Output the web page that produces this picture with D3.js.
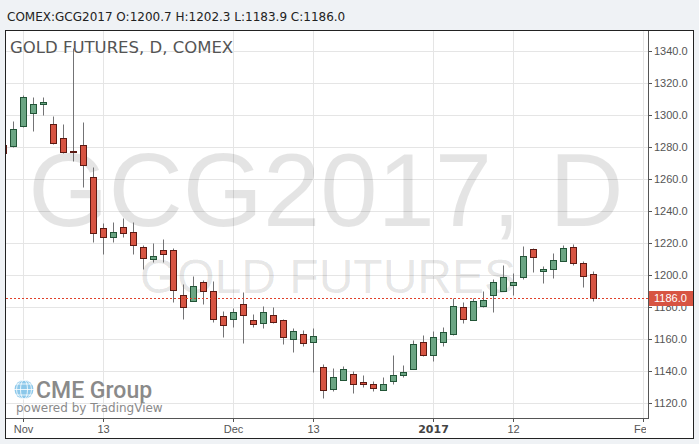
<!DOCTYPE html>
<html>
<head>
<meta charset="utf-8">
<script src="https://d3js.org/d3.v7.min.js"></script>
<style>
    body { margin: 0; background: #eff2f5; }
    svg { display: block; }
</style>
</head>
<body>
<div id="chart"></div>
<script>
const width = 699;
const height = 444;

// daily bars, first bar index is -2 (two October sessions before Nov 1)
const firstIndex = -2;
const opens = [1281.1, 1280.8, 1292.9, 1301.1, 1306.7, 1294.2, 1285.4, 1277.3, 1281.1, 1261.1,
    1229.2, 1223.6, 1229.8, 1226.7, 1217.3, 1209.8, 1215.4, 1215.4, 1187.3, 1183.6,
    1195.4, 1189.8, 1174.2, 1172.9, 1181.7, 1171.7, 1170.4, 1174.8, 1171.7, 1160.4,
    1163.5, 1158.5, 1142.9, 1129.2, 1134.8, 1138.5, 1133.0, 1132.3, 1128.6, 1134.2,
    1137.9, 1141.7, 1158.5, 1150.4, 1158.5, 1163.5, 1179.8, 1171.7, 1180.4, 1187.3,
    1189.8, 1193.6, 1198.6, 1216.0, 1202.3, 1203.6, 1208.6, 1217.3, 1207.3, 1200.7];
const highs = [1282.0, 1296.3, 1312.5, 1311.3, 1311.3, 1299.2, 1294.2, 1341.9, 1295.6, 1267.3,
    1232.3, 1232.9, 1235.4, 1232.9, 1218.8, 1219.8, 1222.3, 1216.7, 1194.4, 1199.4,
    1196.7, 1196.3, 1177.5, 1179.2, 1189.2, 1176.0, 1181.0, 1179.8, 1172.9, 1166.7,
    1166.0, 1166.7, 1144.8, 1142.3, 1143.5, 1140.4, 1137.9, 1134.2, 1136.1, 1150.4,
    1144.2, 1159.8, 1162.9, 1164.8, 1167.3, 1185.4, 1182.9, 1185.4, 1189.8, 1197.3,
    1206.0, 1201.0, 1217.9, 1216.7, 1205.4, 1213.5, 1218.6, 1219.2, 1208.6, 1202.3];
const lows = [1275.0, 1280.2, 1292.5, 1289.6, 1299.6, 1282.0, 1276.2, 1271.4, 1255.2, 1220.8,
    1212.9, 1220.8, 1223.6, 1212.9, 1203.6, 1208.3, 1207.9, 1183.3, 1172.3, 1183.6,
    1182.1, 1170.8, 1161.5, 1167.3, 1157.7, 1167.9, 1166.7, 1170.4, 1157.3, 1152.1,
    1156.0, 1139.6, 1123.6, 1127.9, 1134.8, 1126.5, 1130.4, 1127.9, 1128.6, 1132.3,
    1136.7, 1141.7, 1149.8, 1146.1, 1156.0, 1162.9, 1170.4, 1171.7, 1179.8, 1176.7,
    1189.8, 1187.3, 1197.3, 1201.7, 1194.8, 1197.9, 1208.6, 1206.0, 1192.3, 1183.9];
const closes = [1276.1, 1291.1, 1311.1, 1306.7, 1308.1, 1282.3, 1277.1, 1276.5, 1268.6, 1226.1,
    1223.6, 1226.7, 1226.1, 1218.6, 1210.4, 1211.7, 1212.9, 1190.8, 1179.8, 1192.9,
    1189.8, 1172.9, 1168.6, 1176.7, 1175.4, 1169.2, 1176.7, 1171.0, 1161.1, 1164.8,
    1157.9, 1162.3, 1128.6, 1136.1, 1141.7, 1132.3, 1132.3, 1129.8, 1132.3, 1137.9,
    1139.8, 1157.3, 1150.4, 1161.1, 1164.2, 1180.4, 1172.3, 1183.6, 1184.2, 1195.4,
    1198.6, 1195.4, 1211.7, 1211.0, 1203.6, 1209.2, 1216.7, 1207.3, 1199.2, 1186.0];

const timeTicks = [0, 8, 21, 29, 41, 49, 62];
const timeLabels = ["Nov", "13", "Dec", "13", "2017", "12", "Feb"];
const priceTicks = d3.range(1120, 1341, 20);
const lastPrice = 1186.0;

const bars = opens.map((o, i) => ({
    i: firstIndex + i, o: o, h: highs[i], l: lows[i], c: closes[i]
}));

// plot box inside the frame
const plot = { left: 6, right: 648, top: 31, bottom: 418 };

const x = d3.scaleLinear().domain([0, 1]).range([23, 33]);
const y = d3.scaleLinear().domain([1120, 1340]).range([403.3, 50.7]);
const py = v => Math.round(y(v)) + 0.5;
const px = v => Math.round(x(v)) + 0.5;

const upFill = "#6ba583", upLine = "#225437";
const downFill = "#d75442", downLine = "#5b1a13";

const svg = d3.select("#chart").append("svg")
    .attr("width", width)
    .attr("height", height);

svg.append("rect").attr("width", width).attr("height", height).attr("fill", "#eff2f5");

svg.append("text")
    .attr("x", 7).attr("y", 20.5)
    .style("font", "12px 'DejaVu Sans'")
    .attr("fill", "#222")
    .text(`COMEX:GCG2017 O:${opens[opens.length - 1].toFixed(1)} H:${highs[highs.length - 1].toFixed(1)} L:${lows[lows.length - 1].toFixed(1)} C:${closes[closes.length - 1].toFixed(1)}`);

svg.append("rect")
    .attr("x", 5.5).attr("y", 30.5)
    .attr("width", 688).attr("height", 408)
    .attr("fill", "#fff")
    .attr("stroke", "#222");

const defs = svg.append("defs");
defs.append("clipPath").attr("id", "plot-clip").append("rect")
    .attr("x", plot.left).attr("y", plot.top)
    .attr("width", plot.right - plot.left).attr("height", plot.bottom - plot.top);
defs.append("clipPath").attr("id", "time-clip").append("rect")
    .attr("x", plot.left).attr("y", plot.bottom)
    .attr("width", 646 - plot.left).attr("height", 20);

const g = svg.append("g").attr("clip-path", "url(#plot-clip)");

// grid
g.selectAll(".hgrid").data(priceTicks).join("line")
    .attr("x1", plot.left).attr("x2", plot.right)
    .attr("y1", d => py(d)).attr("y2", d => py(d))
    .attr("stroke", "#e5e5e5");
g.selectAll(".vgrid").data(timeTicks).join("line")
    .attr("x1", d => px(d)).attr("x2", d => px(d))
    .attr("y1", plot.top).attr("y2", plot.bottom)
    .attr("stroke", "#e5e5e5");

// watermark
const cx = (plot.left + plot.right) / 2;
g.append("text")
    .attr("x", cx - 1).attr("y", 226)
    .attr("text-anchor", "middle")
    .style("font", "103px 'Liberation Sans'")
    .attr("fill", "#000").attr("fill-opacity", 0.105)
    .text("GCG2017, D");
g.append("text")
    .attr("x", cx + 1).attr("y", 293)
    .attr("text-anchor", "middle")
    .style("font", "48px 'Liberation Sans'")
    .attr("fill", "#000").attr("fill-opacity", 0.105)
    .text("GOLD FUTURES");

g.append("text")
    .attr("x", 10).attr("y", 52.5)
    .style("font", "16.5px 'DejaVu Sans'")
    .attr("fill", "#555")
    .text("GOLD FUTURES, D, COMEX");

// logo
const logo = g.append("g");
logo.append("circle").attr("cx", 24).attr("cy", 389.5).attr("r", 9.5).attr("fill", "#8cc8ea");
[-5.5, 0, 5.5].forEach(dy => {
    logo.append("line")
        .attr("x1", 14).attr("x2", 34).attr("y1", 389.5 + dy).attr("y2", 389.5 + dy)
        .attr("stroke", "#fff").attr("stroke-width", 0.8);
});
[3.5, 7.5].forEach(rx => {
    logo.append("ellipse").attr("cx", 24).attr("cy", 389.5).attr("rx", rx).attr("ry", 9.5)
        .attr("fill", "none").attr("stroke", "#fff").attr("stroke-width", 0.8);
});
logo.append("text")
    .attr("x", 36).attr("y", 398)
    .style("font", "500 23px Roboto")
    .attr("fill", "#8a8a8a")
    .text("CME Group");
logo.append("text")
    .attr("x", 16).attr("y", 412)
    .style("font", "12px 'DejaVu Sans'")
    .attr("fill", "#8a8a8a")
    .text("powered by TradingView");

// candles
const candle = g.selectAll(".candle").data(bars).join("g");
candle.append("line")
    .attr("x1", d => px(d.i)).attr("x2", d => px(d.i))
    .attr("y1", d => py(d.h)).attr("y2", d => py(d.l))
    .attr("stroke", "#737375");
candle.append("rect")
    .attr("x", d => Math.round(x(d.i)) - 2.5)
    .attr("width", 6)
    .attr("y", d => py(Math.max(d.o, d.c)))
    .attr("height", d => Math.max(0.5, Math.round(y(Math.min(d.o, d.c))) - Math.round(y(Math.max(d.o, d.c)))))
    .attr("fill", d => d.c >= d.o ? upFill : downFill)
    .attr("stroke", d => d.c >= d.o ? upLine : downLine);

// last price line
g.append("line")
    .attr("x1", plot.left).attr("x2", plot.right)
    .attr("y1", py(lastPrice)).attr("y2", py(lastPrice))
    .attr("stroke", "#e0402a")
    .attr("stroke-dasharray", "2,2");

// price axis
svg.append("line")
    .attr("x1", plot.right + 0.5).attr("x2", plot.right + 0.5)
    .attr("y1", plot.top).attr("y2", plot.bottom + 1)
    .attr("stroke", "#555");
const pAxis = svg.append("g");
pAxis.selectAll("line").data(priceTicks).join("line")
    .attr("x1", plot.right).attr("x2", plot.right + 4)
    .attr("y1", d => py(d)).attr("y2", d => py(d))
    .attr("stroke", "#555");
pAxis.selectAll("text").data(priceTicks).join("text")
    .attr("x", 654).attr("y", d => y(d) + 4)
    .style("font", "11px 'Liberation Sans'")
    .attr("fill", "#555")
    .text(d => d.toFixed(1));

svg.append("rect")
    .attr("x", plot.right + 1).attr("y", py(lastPrice) - 7.5)
    .attr("width", 44).attr("height", 15)
    .attr("fill", downFill);
svg.append("text")
    .attr("x", 654).attr("y", y(lastPrice) + 4.5)
    .style("font", "11px 'Liberation Sans'")
    .attr("fill", "#fff")
    .text(lastPrice.toFixed(1));

// time axis
svg.append("line")
    .attr("x1", plot.left).attr("x2", plot.right + 1)
    .attr("y1", plot.bottom + 0.5).attr("y2", plot.bottom + 0.5)
    .attr("stroke", "#555");
const tAxis = svg.append("g").attr("clip-path", "url(#time-clip)");
tAxis.selectAll("line").data(timeTicks).join("line")
    .attr("x1", d => px(d)).attr("x2", d => px(d))
    .attr("y1", plot.bottom).attr("y2", plot.bottom + 4)
    .attr("stroke", "#555");
tAxis.selectAll("text").data(timeTicks).join("text")
    .attr("x", d => x(d) + 0.5).attr("y", 432.5)
    .attr("text-anchor", "middle")
    .style("font", (d, i) => timeLabels[i] === "2017" ? "bold 11px 'DejaVu Sans'" : "11px 'Liberation Sans'")
    .attr("fill", (d, i) => timeLabels[i] === "2017" ? "#444" : "#555")
    .text((d, i) => timeLabels[i]);
</script>
</body>
</html>
